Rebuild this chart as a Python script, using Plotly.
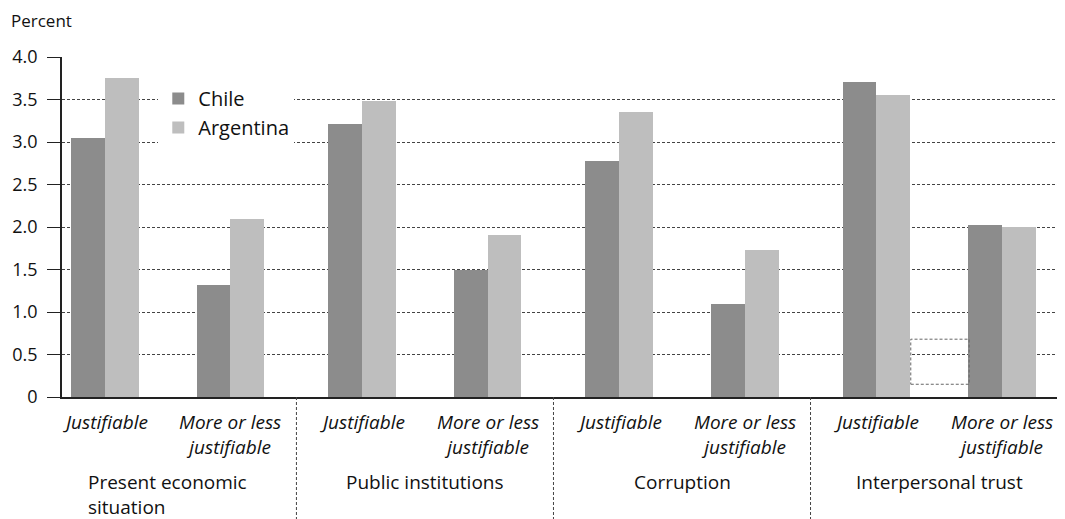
import plotly.graph_objects as go

groups = ["Present economic<br>situation", "Public institutions", "Corruption", "Interpersonal trust"]
subcats = ["Justifiable", "More or less<br>justifiable"]
chile = [3.05, 1.32, 3.21, 1.50, 2.78, 1.10, 3.71, 2.02]
argentina = [3.75, 2.10, 3.48, 1.91, 3.35, 1.73, 3.55, 2.00]
yticks = [0, 0.5, 1.0, 1.5, 2.0, 2.5, 3.0, 3.5, 4.0]
yticktext = ["0", "0.5", "1.0", "1.5", "2.0", "2.5", "3.0", "3.5", "4.0"]

FONT = "Open Sans"
FS = 19
BW = 0.132
SUB_OFF = 0.2435
LINE = 1.3 * FS

xs = []
for g in range(len(groups)):
    for j in range(len(subcats)):
        xs.append(g + (j - 0.5) * 2 * SUB_OFF)

fig = go.Figure()
fig.add_trace(go.Bar(x=xs, y=chile, name="Chile", marker_color="#8c8c8c",
                     width=BW, offset=-BW, marker_line_width=0))
fig.add_trace(go.Bar(x=xs, y=argentina, name="Argentina", marker_color="#bebebe",
                     width=BW, offset=0, marker_line_width=0))

annotations = []
SUB_FIRST = 25   # px below zero line, centre of first line of sub labels
GRP_FIRST = 85   # px below zero line, centre of first line of group labels
for i, x in enumerate(xs):
    txt = subcats[i % 2]
    n = len(txt.split("<br>"))
    italic = "<br>".join("<i>" + s + "</i>" for s in txt.split("<br>"))
    annotations.append(dict(x=x, y=0, xref="x", yref="y", text=italic,
                            showarrow=False, yanchor="middle",
                            yshift=-(SUB_FIRST + (n - 1) * LINE / 2),
                            font=dict(family=FONT, size=FS, color="#111")))
for g, name in enumerate(groups):
    n = len(name.split("<br>"))
    annotations.append(dict(x=g, y=0, xref="x", yref="y", text=name,
                            showarrow=False, yanchor="middle", align="left",
                            yshift=-(GRP_FIRST + (n - 1) * LINE / 2),
                            font=dict(family=FONT, size=FS, color="#111")))
annotations.append(dict(x=0, y=1, xref="paper", yref="paper", text="Percent",
                        showarrow=False, xanchor="left", yanchor="middle",
                        xshift=-53, yshift=37,
                        font=dict(family=FONT, size=17, color="#111")))

shapes = []
for g in range(1, len(groups)):
    shapes.append(dict(type="line", xref="x", yref="paper", x0=g - 0.5, x1=g - 0.5,
                       y0=0, y1=-0.37, line=dict(color="#444", width=1, dash="3px,2px")))
shapes.append(dict(type="rect", xref="x", yref="y", x0=2.89, x1=3.117, y0=0.15, y1=0.68,
                   line=dict(color="#666", width=1, dash="3px,2px")))

fig.update_layout(
    width=1057, height=511,
    margin=dict(l=54, r=0, t=49, b=122),
    paper_bgcolor="white", plot_bgcolor="white",
    font=dict(family=FONT, size=FS, color="#111"),
    showlegend=True,
    legend=dict(x=0.096, y=0.935, xanchor="left", yanchor="top",
                bgcolor="white", font=dict(family=FONT, size=20, color="#111"),
                tracegroupgap=0, borderwidth=0),
    xaxis=dict(range=[-0.412, 3.49], showticklabels=False, showgrid=False,
               zeroline=False, showline=True, linecolor="#222", linewidth=1.5,
               ticks=""),
    yaxis=dict(range=[0, 4], tickvals=yticks, ticktext=yticktext,
               showgrid=True, gridcolor="#444", griddash="3px,2px", gridwidth=1,
               zeroline=False, showline=True, linecolor="#222", linewidth=1.5,
               ticks="outside", ticklen=13, tickcolor="#222", tickwidth=1.2,
               ticklabelstandoff=6,
               tickfont=dict(family=FONT, size=18, color="#111")),
    annotations=annotations,
    shapes=shapes,
    bargap=0,
)
fig.write_html("out.html")
